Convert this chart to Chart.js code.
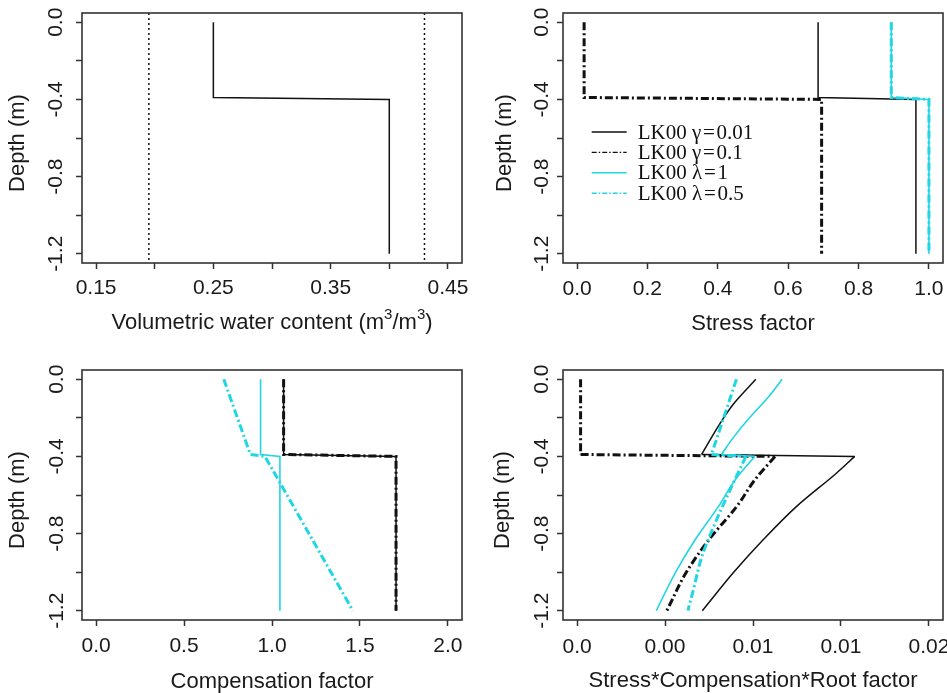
<!DOCTYPE html>
<html>
<head>
<meta charset="utf-8">
<title>Root water uptake profiles</title>
<script src="https://cdn.jsdelivr.net/npm/chart.js@4.4.0/dist/chart.umd.min.js"></script>
<style>
    html, body { margin: 0; padding: 0; background: #fff; }
    #figure { position: relative; width: 947px; height: 693px; }
    #figure canvas { position: absolute; }
</style>
</head>
<body>
<div id="figure">
    <canvas id="chartTheta" width="473" height="346" style="left:0;top:0"></canvas>
    <canvas id="chartStress" width="474" height="346" style="left:473px;top:0"></canvas>
    <canvas id="chartComp" width="473" height="347" style="left:0;top:346px"></canvas>
    <canvas id="chartScr" width="474" height="347" style="left:473px;top:346px"></canvas>
</div>
<script>
/* =======================
   DATA
======================= */
// depth of the profile nodes (m), step at the layer boundary
const layerTop = -0.39;
const depthStep = [0, -0.39, -0.40, -1.2];

// panel 1 - water content
const thetaProfile = [0.25, 0.25, 0.40, 0.40];
const thetaLimits = [0.195, 0.43];   // dotted reference lines

// panel 2 - stress factor
const stressG001 = [0.685, 0.685, 0.963, 0.963];
const stressG01 = [0.02, 0.02, 0.695, 0.695];
const stressL1 = [0.893, 0.893, 1.0, 1.0];
const stressL05 = [0.893, 0.893, 1.0, 1.0];

// panel 3 - compensation factor
const compG001 = [1.066, 1.066, 1.705, 1.705];
const compG01 = [1.066, 1.066, 1.705, 1.705];
const compL1 = [0.935, 0.935, 1.045, 1.045];
const compL05 = [0.726, 0.877, 0.96, 1.46];

// panel 4 - stress * compensation * root factor
const scrDepthG001 = [0, -0.127, -0.23, -0.39, -0.40, -0.487, -0.659, -0.831, -1.002, -1.2];
const scrG001 = [0.01016, 0.0089, 0.00812, 0.00708, 0.01578, 0.01474, 0.01248, 0.01059, 0.00889, 0.00712];

const scrDepthG01 = [0, -0.39, -0.40, -0.522, -0.659, -0.831, -1.002, -1.2];
const scrG01 = [0.0002, 0.0002, 0.01125, 0.0101, 0.00908, 0.0075, 0.0062, 0.0051];

const scrDepthL1 = [0, -0.1, -0.2, -0.3, -0.39, -0.40, -0.522, -0.659, -0.831, -1.002, -1.2];
const scrL1 = [0.01166, 0.0108, 0.0098, 0.0089, 0.0082, 0.0101, 0.00898, 0.00804, 0.00672, 0.00559, 0.0045];

const scrDepthL05 = [0, -0.39, -0.40, -0.573, -0.745, -0.917, -1.088, -1.2];
const scrL05 = [0.00906, 0.00764, 0.0096, 0.0087, 0.00785, 0.0071, 0.00662, 0.0063];

// series names
const seriesLabels = ['LK00 \u03B3\u200A=\u200A0.01', 'LK00 \u03B3\u200A=\u200A0.1', 'LK00 \u03BB\u200A=\u200A1', 'LK00 \u03BB\u200A=\u200A0.5'];

// ticks
const depthTicks = [0, -0.2, -0.4, -0.6, -0.8, -1.0, -1.2];
const depthTickLabels = ['0.0', '', '-0.4', '', '-0.8', '', '-1.2'];
const thetaTicks = [0.15, 0.20, 0.25, 0.30, 0.35, 0.40, 0.45];
const thetaTickLabels = ['0.15', '', '0.25', '', '0.35', '', '0.45'];
const stressTicks = [0, 0.2, 0.4, 0.6, 0.8, 1.0];
const stressTickLabels = ['0.0', '0.2', '0.4', '0.6', '0.8', '1.0'];
const compTicks = [0, 0.5, 1.0, 1.5, 2.0];
const compTickLabels = ['0.0', '0.5', '1.0', '1.5', '2.0'];
const scrTicks = [0, 0.005, 0.01, 0.015, 0.02];
const scrTickLabels = ['0.0', '0.00', '0.01', '0.01', '0.02'];

/* =======================
   STYLES
======================= */
const sansFont = '"Liberation Sans", Arial, Helvetica, sans-serif';
const serifFont = '"Liberation Serif", "Times New Roman", serif';
const cyan = '#1fd6e2';
const dotDash = [8, 3, 2, 3];

const styleG001 = { borderColor: '#111', borderWidth: 1.5, borderDash: [], keyDash: [] };
const styleG01 = { borderColor: '#111', borderWidth: 3, borderDash: dotDash, keyDash: [5, 2, 1.5, 2] };
const styleL1 = { borderColor: cyan, borderWidth: 1.6, borderDash: [], keyDash: [] };
const styleL05 = { borderColor: cyan, borderWidth: 3, borderDash: dotDash, keyDash: [5, 2, 1.5, 2] };

// smooth curves follow the depth axis
const smooth = { indexAxis: 'y', cubicInterpolationMode: 'monotone' };

const line = (label, xs, depths, style, order, extra) => ({
    label,
    data: xs.map((v, i) => ({ x: v, y: depths[i] })),
    showLine: true,
    fill: false,
    pointRadius: 0,
    order,
    ...style,
    ...(extra || {})
});

// profiles on the four nodes of depthStep, R drawing order (last on top)
const stepSeries = (g001, g01, l1, l05) => [
    line(seriesLabels[0], g001, depthStep, styleG001, 4),
    line(seriesLabels[1], g01, depthStep, styleG01, 3),
    line(seriesLabels[2], l1, depthStep, styleL1, 2),
    line(seriesLabels[3], l05, depthStep, styleL05, 1)
];

// curved profiles: smooth above and below the layer jump, straight jump in between
const curvedSeries = (label, xs, depths, style, order) => {
    const k = depths.indexOf(layerTop);
    return [
        line(label, xs.slice(0, k + 1), depths.slice(0, k + 1), style, order, smooth),
        line(label, xs.slice(k, k + 2), depths.slice(k, k + 2), style, order, { inKey: false }),
        line(label, xs.slice(k + 1), depths.slice(k + 1), style, order, { ...smooth, inKey: false })
    ];
};

/* =======================
   PLUGINS
======================= */
// text with optional superscript parts: [{ t: 'm' }, { t: '3', sup: true }]
const drawRich = (ctx, parts, cx, cy, size) => {
    const fontOf = p => `${p.sup ? Math.round(size * 0.7) : size}px ${sansFont}`;
    let total = 0;
    parts.forEach(p => { ctx.font = fontOf(p); total += ctx.measureText(p.t).width; });
    let x = cx - total / 2;
    ctx.textAlign = 'left';
    parts.forEach(p => {
        ctx.font = fontOf(p);
        ctx.fillText(p.t, x, p.sup ? cy - size * 0.36 : cy);
        x += ctx.measureText(p.t).width;
    });
    ctx.textAlign = 'center';
};

// R-like box, tick labels and axis titles
const rAxes = {
    id: 'rAxes',
    afterDraw(chart, args, opts) {
        const { ctx, chartArea: a, scales: { x, y } } = chart;
        ctx.save();
        ctx.setLineDash([]);
        ctx.strokeStyle = '#333';
        ctx.lineWidth = 1.6;
        ctx.strokeRect(a.left, a.top, a.right - a.left, a.bottom - a.top);

        ctx.fillStyle = '#1a1a1a';
        ctx.textAlign = 'center';
        ctx.textBaseline = 'middle';
        ctx.font = `21px ${sansFont}`;
        x.ticks.forEach(t => {
            if (t.label) ctx.fillText(t.label, x.getPixelForValue(t.value), a.bottom + opts.xTickGap);
        });
        y.ticks.forEach(t => {
            if (!t.label) return;
            ctx.save();
            ctx.translate(a.left - opts.yTickGap, y.getPixelForValue(t.value));
            ctx.rotate(-Math.PI / 2);
            ctx.fillText(t.label, 0, 0);
            ctx.restore();
        });

        drawRich(ctx, opts.xTitle, (a.left + a.right) / 2, a.bottom + opts.xTitleGap, 22);
        ctx.font = `22px ${sansFont}`;
        ctx.translate(a.left - opts.yTitleGap, (a.top + a.bottom) / 2 + 5);
        ctx.rotate(-Math.PI / 2);
        ctx.fillText('Depth (m)', 0, 0);
        ctx.restore();
    }
};

// vertical dotted reference lines (abline style)
const refLines = {
    id: 'refLines',
    afterDatasetsDraw(chart, args, opts) {
        if (!opts.values || !opts.values.length) return;
        const { ctx, chartArea: a, scales: { x } } = chart;
        ctx.save();
        ctx.strokeStyle = '#111';
        ctx.lineWidth = 1.5;
        ctx.setLineDash([2, 3]);
        opts.values.forEach(v => {
            const px = x.getPixelForValue(v);
            ctx.beginPath();
            ctx.moveTo(px, a.top);
            ctx.lineTo(px, a.bottom);
            ctx.stroke();
        });
        ctx.restore();
    }
};

// legend drawn inside the plot, no frame
const seriesKey = {
    id: 'seriesKey',
    afterDraw(chart, args, opts) {
        if (!opts.show) return;
        const { ctx, chartArea: a } = chart;
        ctx.save();
        ctx.font = `21px ${serifFont}`;
        ctx.textAlign = 'left';
        ctx.textBaseline = 'middle';
        ctx.fillStyle = '#111';
        chart.data.datasets.filter(ds => ds.inKey !== false).forEach((ds, i) => {
            const yy = a.top + opts.top + i * opts.rowGap;
            const x0 = a.left + opts.left;
            ctx.strokeStyle = ds.borderColor;
            ctx.lineWidth = 1.4;
            ctx.setLineDash(ds.keyDash);
            ctx.beginPath();
            ctx.moveTo(x0, yy);
            ctx.lineTo(x0 + opts.lineLength, yy);
            ctx.stroke();
            ctx.fillText(ds.label, x0 + opts.textOffset, yy + 1);
        });
        ctx.restore();
    }
};

/* =======================
   CHARTS
======================= */
const gridR = {
    display: true,
    drawOnChartArea: false,
    drawTicks: true,
    tickLength: 6,
    tickWidth: 1.5,
    tickColor: '#333'
};

const createPanel = (canvasId, cfg) => {
    const ctx = document.getElementById(canvasId).getContext('2d');
    return new Chart(ctx, {
        type: 'scatter',
        data: { datasets: cfg.datasets },
        options: {
            responsive: false,
            animation: false,
            events: [],
            layout: { padding: { top: cfg.padTop, right: cfg.padRight, left: 0, bottom: 0 } },
            plugins: {
                legend: { display: false },
                tooltip: { enabled: false },
                rAxes: cfg.text,
                refLines: { values: cfg.refLines || [] },
                seriesKey: cfg.key || { show: false }
            },
            scales: {
                x: {
                    type: 'linear',
                    min: cfg.xMin,
                    max: cfg.xMax,
                    afterBuildTicks: axis => { axis.ticks = cfg.xTicks.map(v => ({ value: v })); },
                    afterFit: axis => { axis.height = cfg.xHeight; },
                    ticks: { display: false, callback: (v, i) => cfg.xLabels[i] },
                    grid: gridR,
                    border: { display: false }
                },
                y: {
                    type: 'linear',
                    min: -1.248,
                    max: 0.048,
                    afterBuildTicks: axis => { axis.ticks = depthTicks.map(v => ({ value: v })); },
                    afterFit: axis => { axis.width = cfg.yWidth; },
                    ticks: { display: false, callback: (v, i) => depthTickLabels[i] },
                    grid: gridR,
                    border: { display: false }
                }
            }
        },
        plugins: [refLines, rAxes, seriesKey]
    });
};

// panel 1
createPanel('chartTheta', {
    datasets: [line('theta', thetaProfile, depthStep, styleG001, 1)],
    refLines: thetaLimits,
    xMin: 0.138, xMax: 0.462,
    xTicks: thetaTicks, xLabels: thetaTickLabels,
    padTop: 13, padRight: 11, yWidth: 82, xHeight: 83,
    text: {
        xTitle: [{ t: 'Volumetric water content (m' }, { t: '3', sup: true }, { t: '/m' }, { t: '3', sup: true }, { t: ')' }],
        xTickGap: 25.5, xTitleGap: 59.5, yTickGap: 26, yTitleGap: 64
    }
});

// panel 2
createPanel('chartStress', {
    datasets: stepSeries(stressG001, stressG01, stressL1, stressL05),
    xMin: -0.04, xMax: 1.04,
    xTicks: stressTicks, xLabels: stressTickLabels,
    padTop: 13, padRight: 4, yWidth: 90, xHeight: 83,
    text: { xTitle: [{ t: 'Stress factor' }], xTickGap: 26, xTitleGap: 60.5, yTickGap: 20.5, yTitleGap: 58 },
    key: { show: true, left: 28.7, top: 119, rowGap: 20.4, lineLength: 35, textOffset: 46 }
});

// panel 3
createPanel('chartComp', {
    datasets: stepSeries(compG001, compG01, compL1, compL05),
    xMin: -0.08, xMax: 2.08,
    xTicks: compTicks, xLabels: compTickLabels,
    padTop: 24, padRight: 11, yWidth: 82, xHeight: 73,
    text: { xTitle: [{ t: 'Compensation factor' }], xTickGap: 26, xTitleGap: 61.5, yTickGap: 25, yTitleGap: 64 }
});

// panel 4
createPanel('chartScr', {
    datasets: [
        ...curvedSeries(seriesLabels[0], scrG001, scrDepthG001, styleG001, 4),
        ...curvedSeries(seriesLabels[1], scrG01, scrDepthG01, styleG01, 3),
        ...curvedSeries(seriesLabels[2], scrL1, scrDepthL1, styleL1, 2),
        ...curvedSeries(seriesLabels[3], scrL05, scrDepthL05, styleL05, 1)
    ],
    xMin: -0.0008, xMax: 0.0208,
    xTicks: scrTicks, xLabels: scrTickLabels,
    padTop: 24, padRight: 4, yWidth: 90, xHeight: 73,
    text: { xTitle: [{ t: 'Stress*Compensation*Root factor' }], xTickGap: 27.5, xTitleGap: 61, yTickGap: 21, yTitleGap: 60.5 }
});
</script>
</body>
</html>
